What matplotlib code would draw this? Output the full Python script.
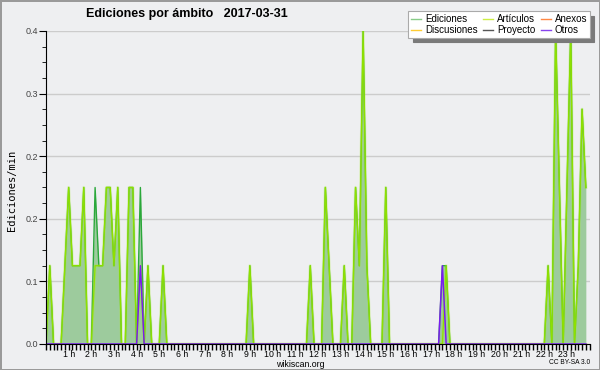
import numpy as np
import matplotlib
matplotlib.use("Agg")
import matplotlib.pyplot as plt

# ediciones por minuto, una muestra cada 10 minutos (6 por hora)
ediciones = [
    0, 0.1, 0, 0, 0, 0.1,        # 0 h
    0.2, 0.1, 0.1, 0.1, 0.2, 0,  # 1 h
    0, 0.2, 0.1, 0.1, 0.2, 0.2,  # 2 h
    0.1, 0.2, 0, 0, 0.2, 0.2,    # 3 h
    0, 0.2, 0, 0.1, 0, 0,        # 4 h
    0, 0.1, 0, 0, 0, 0,          # 5 h
    0, 0, 0, 0, 0, 0,            # 6 h
    0, 0, 0, 0, 0, 0,            # 7 h
    0, 0, 0, 0, 0, 0,            # 8 h
    0.1, 0, 0, 0, 0, 0,          # 9 h
    0, 0, 0, 0, 0, 0,            # 10 h
    0, 0, 0, 0, 0.1, 0,          # 11 h
    0, 0, 0.2, 0.1, 0, 0,        # 12 h
    0, 0.1, 0, 0, 0.2, 0.1,      # 13 h
    0.4, 0.1, 0, 0, 0, 0,        # 14 h
    0.2, 0, 0, 0, 0, 0,          # 15 h
    0, 0, 0, 0, 0, 0,            # 16 h
    0, 0, 0, 0.1, 0.1, 0,        # 17 h
    0, 0, 0, 0, 0, 0,            # 18 h
    0, 0, 0, 0, 0, 0,            # 19 h
    0, 0, 0, 0, 0, 0,            # 20 h
    0, 0, 0, 0, 0, 0,            # 21 h
    0, 0.1, 0, 0.4, 0.2, 0,      # 22 h
    0.2, 0.4, 0, 0.1, 0.1, 0.1,  # 23 h
]
ediciones[-2:] = [0.3, 0.2]

articulos = list(ediciones)
articulos[13] = 0.1
articulos[25] = 0.1
articulos[105] = 0
otros = [0] * 144
otros[25] = 0.1
otros[105] = 0.1
anexos = [0] * 144
discusiones = [0] * 144
proyecto = [0] * 144

horas = np.arange(144) / 6.0
hour_ticks = list(range(1, 24))
hour_labels = [f"{h} h" for h in hour_ticks]

plt.rcParams['font.family'] = ['Liberation Sans', 'DejaVu Sans']

bg = '#eeeff1'
fig = plt.figure(figsize=(6, 3.7), dpi=100, facecolor=bg)
fig.patch.set_edgecolor('#9a9a9a')
fig.patch.set_linewidth(2)
ax = fig.add_axes([0.0767, 0.0703, 0.906, 0.846])
ax.set_facecolor(bg)

ax.fill_between(horas, ediciones, color='#9dcb9d', lw=0, zorder=2)
ax.plot(horas, anexos, color='#ff8844', lw=1, zorder=1)
ax.plot(horas, discusiones, color='#ffcc33', lw=1, zorder=1)
ax.plot(horas, proyecto, color='#555555', lw=1, zorder=1)
ax.plot(horas, ediciones, color='#2aa83a', lw=1, zorder=3)
ax.plot(horas, articulos, color='#a8ec30', lw=2.2, alpha=0.3, zorder=4)
ax.plot(horas, articulos, color='#8fe000', lw=0.9, zorder=4)
ax.plot(horas, otros, color='#7a1cf0', lw=1.1, zorder=5)

ax.set_xlim(0, 24)
ax.set_ylim(0, 0.4)
ax.set_yticks(np.arange(0, 0.41, 0.08))
ax.set_yticks(np.arange(0, 0.41, 0.02), minor=True)
ax.yaxis.set_major_formatter(matplotlib.ticker.FormatStrFormatter('%.1f'))
ax.set_xticks(hour_ticks)
ax.set_xticklabels(hour_labels)
ax.set_xticks(np.arange(0, 24.01, 1 / 6), minor=True)
ax.tick_params(axis='x', which='both', length=4, width=1, labelsize=6.3, pad=0)
ax.tick_params(axis='y', which='major', length=5, labelsize=6.5, labelcolor='#444444', pad=1)
ax.tick_params(axis='y', which='minor', length=3)
ax.grid(axis='y', which='major', color='#cccccc', lw=1)
ax.set_axisbelow(True)
for s in ['top', 'right']:
    ax.spines[s].set_visible(False)
ax.spines['left'].set_zorder(6)
ax.spines['bottom'].set_zorder(6)

# leyenda
h = [
    plt.Line2D([], [], color='#88cc88', lw=1), plt.Line2D([], [], color='#ffcc33', lw=1),
    plt.Line2D([], [], color='#ccee44', lw=1), plt.Line2D([], [], color='#555555', lw=1),
    plt.Line2D([], [], color='#ff8844', lw=1), plt.Line2D([], [], color='#8844ee', lw=1),
]
lab = ['Ediciones', 'Discusiones', 'Artículos', 'Proyecto', 'Anexos', 'Otros']
leg = fig.legend(h, lab, ncol=3, loc='center', bbox_to_anchor=(0.832, 0.933),
                 fontsize=7, frameon=True, fancybox=False,
                 shadow={'color': '#7a7a7a', 'alpha': 1, 'ox': 3, 'oy': -3},
                 handlelength=1.0, handletextpad=0.4, columnspacing=0.6,
                 labelspacing=0.1, borderpad=0.3)
leg.get_frame().set_edgecolor('#aaaaaa')
leg.get_frame().set_linewidth(0.8)

fig.text(0.312, 0.962, 'Ediciones por ámbito   2017-03-31', ha='center', va='center',
         fontsize=9, fontweight='bold')
fig.text(0.02, 0.486, 'Ediciones/min', rotation=90, ha='center', va='center',
         fontsize=7.5, family='DejaVu Sans Mono')
fig.text(0.5, 0.016, 'wikiscan.org', ha='center', va='center', fontsize=6.3)
fig.text(0.983, 0.02, 'CC BY-SA 3.0', ha='right', va='center', fontsize=4.8)

fig.savefig('out.png', dpi=100, facecolor=bg, edgecolor='#9a9a9a')
